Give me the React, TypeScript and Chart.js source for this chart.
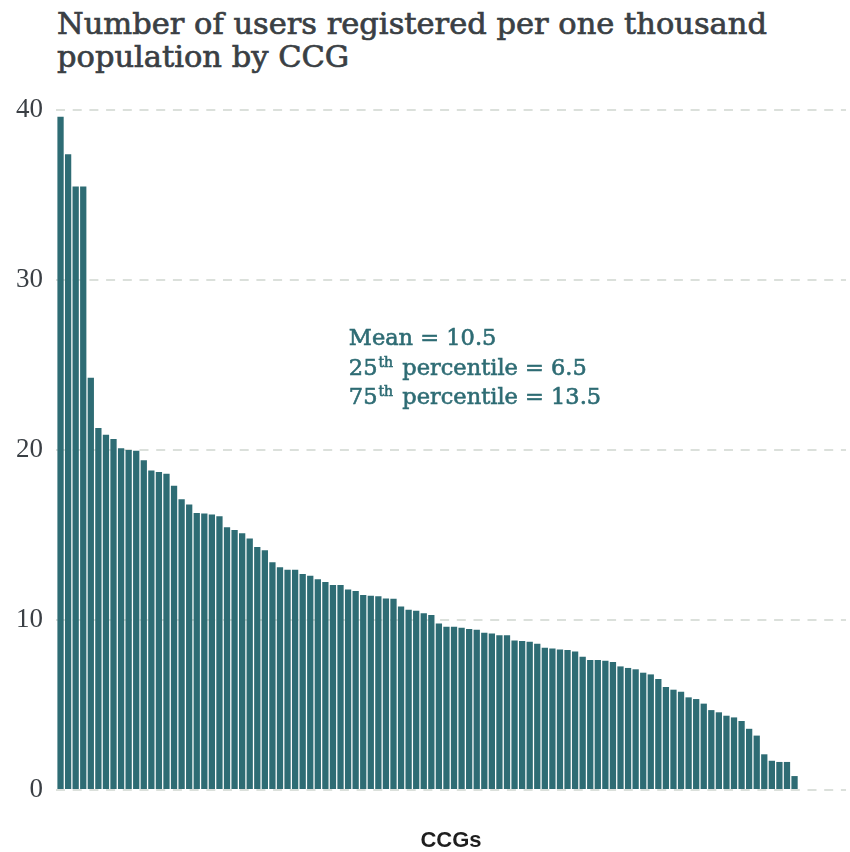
import React, { useEffect, useRef } from "react";
import { Chart, registerables } from "chart.js";

Chart.register(...registerables);

const titleLines = ["Number of users registered per one thousand", "population by CCG"];
const xAxisTitle = "CCGs";
const yTickValues = [0, 10, 20, 30, 40];

// Users registered per 1,000 population, one value per CCG (sorted descending)
const ccgValues = [
  39.6, 37.4, 35.5, 35.5, 24.25, 21.3, 20.9, 20.65, 20.1, 20.0,
  19.95, 19.4, 18.8, 18.7, 18.6, 17.9, 17.1, 16.8, 16.3, 16.27,
  16.2, 16.1, 15.45, 15.3, 15.1, 14.8, 14.3, 14.1, 13.4, 13.1,
  12.95, 12.95, 12.7, 12.6, 12.4, 12.24, 12.06, 12.06, 11.8, 11.7,
  11.47, 11.43, 11.4, 11.27, 11.25, 10.8, 10.6, 10.55, 10.4, 10.3,
  9.8, 9.6, 9.6, 9.55, 9.47, 9.43, 9.25, 9.2, 9.1, 9.1,
  8.8, 8.76, 8.72, 8.6, 8.37, 8.33, 8.27, 8.24, 8.14, 7.84,
  7.65, 7.65, 7.6, 7.53, 7.27, 7.18, 7.1, 6.9, 6.8, 6.53,
  6.06, 5.9, 5.78, 5.45, 5.35, 5.08, 4.7, 4.57, 4.37, 4.27,
  4.06, 3.6, 3.2, 2.1, 1.72, 1.65, 1.65, 0.82,
];

const statLines = [
  { lead: "Mean = 10.5", sup: "", rest: "" },
  { lead: "25", sup: "th", rest: " percentile = 6.5" },
  { lead: "75", sup: "th", rest: " percentile = 13.5" },
];

const TEAL = "#2e6c74";
const GRID = "#dbe0db";
const TEXT = "#3a3f44";
const SERIF = "'DejaVu Serif', serif";

const statsPlugin = {
  id: "statsText",
  afterDatasetsDraw(chart: any) {
    const { ctx, scales } = chart;
    const x0 = scales.x.getPixelForValue(39.1);
    const base = scales.y.getPixelForValue(26.15);
    ctx.save();
    ctx.fillStyle = TEAL;
    ctx.strokeStyle = TEAL;
    ctx.lineWidth = 0.6;
    ctx.textAlign = "left";
    ctx.textBaseline = "alphabetic";
    const put = (s: string, x: number, y: number) => {
      ctx.fillText(s, x, y);
      ctx.strokeText(s, x, y);
    };
    statLines.forEach((ln, i) => {
      const yy = base + i * 29.5;
      let xx = x0;
      ctx.font = `22.5px ${SERIF}`;
      put(ln.lead, xx, yy);
      xx += ctx.measureText(ln.lead).width;
      if (ln.sup) {
        ctx.font = `14px ${SERIF}`;
        put(ln.sup, xx + 1, yy - 8);
        xx += ctx.measureText(ln.sup).width + 3;
      }
      if (ln.rest) {
        ctx.font = `22.5px ${SERIF}`;
        put(ln.rest, xx, yy);
      }
    });
    ctx.restore();
  },
};

export default function App() {
  const canvasRef = useRef<HTMLCanvasElement | null>(null);

  useEffect(() => {
    if (!canvasRef.current) return;
    const chart = new Chart(canvasRef.current, {
      type: "bar",
      data: {
        datasets: [
          {
            label: "Users per 1,000 population",
            data: ccgValues.map((v, i) => ({ x: i + 1, y: v })),
            backgroundColor: TEAL,
            borderWidth: 0,
            barPercentage: 0.83,
            categoryPercentage: 1,
          },
        ],
      },
      options: {
        animation: false,
        responsive: false,
        layout: { padding: { top: 110, left: 0, right: 4, bottom: 0 } },
        plugins: {
          legend: { display: false },
          tooltip: { enabled: false },
          title: { display: false },
        },
        scales: {
          x: {
            type: "linear",
            offset: false,
            min: 0.4,
            max: 104.8,
            grid: { display: false },
            border: { display: false },
            ticks: { display: false },
            title: {
              display: true,
              text: xAxisTitle,
              color: "#1e1e1e",
              font: { family: "'Liberation Sans Narrow', 'Liberation Sans', sans-serif", size: 22, weight: "bold", lineHeight: 1 },
              padding: 0,
            },
            afterFit: (axis: any) => {
              axis.height = 62;
            },
          },
          y: {
            min: 0,
            max: 40,
            afterBuildTicks: (axis: any) => {
              axis.ticks = yTickValues.map((v) => ({ value: v }));
            },
            grid: { color: GRID, lineWidth: 2, drawTicks: false },
            border: { display: false, dash: [9, 7.7] },
            ticks: {
              color: TEXT,
              padding: 13,
              font: { family: "'Liberation Serif', serif", size: 27 },
            },
            afterFit: (axis: any) => {
              axis.width = 56;
            },
          },
        },
      },
      plugins: [statsPlugin],
    });
    return () => chart.destroy();
  }, []);

  return (
    <div style={{ position: "absolute", left: 0, top: 0, width: 850, height: 852, background: "#fff" }}>
      <div
        style={{
          position: "absolute",
          left: 57,
          top: 7,
          fontFamily: SERIF,
          fontSize: 30.5,
          lineHeight: "33px",
          color: TEXT,
          whiteSpace: "nowrap",
          WebkitTextStroke: "0.7px " + TEXT,
        }}
      >
        {titleLines.map((t) => (
          <div key={t}>{t}</div>
        ))}
      </div>
      <canvas ref={canvasRef} width={850} height={852} style={{ position: "absolute", left: 0, top: 0 }} />
    </div>
  );
}
